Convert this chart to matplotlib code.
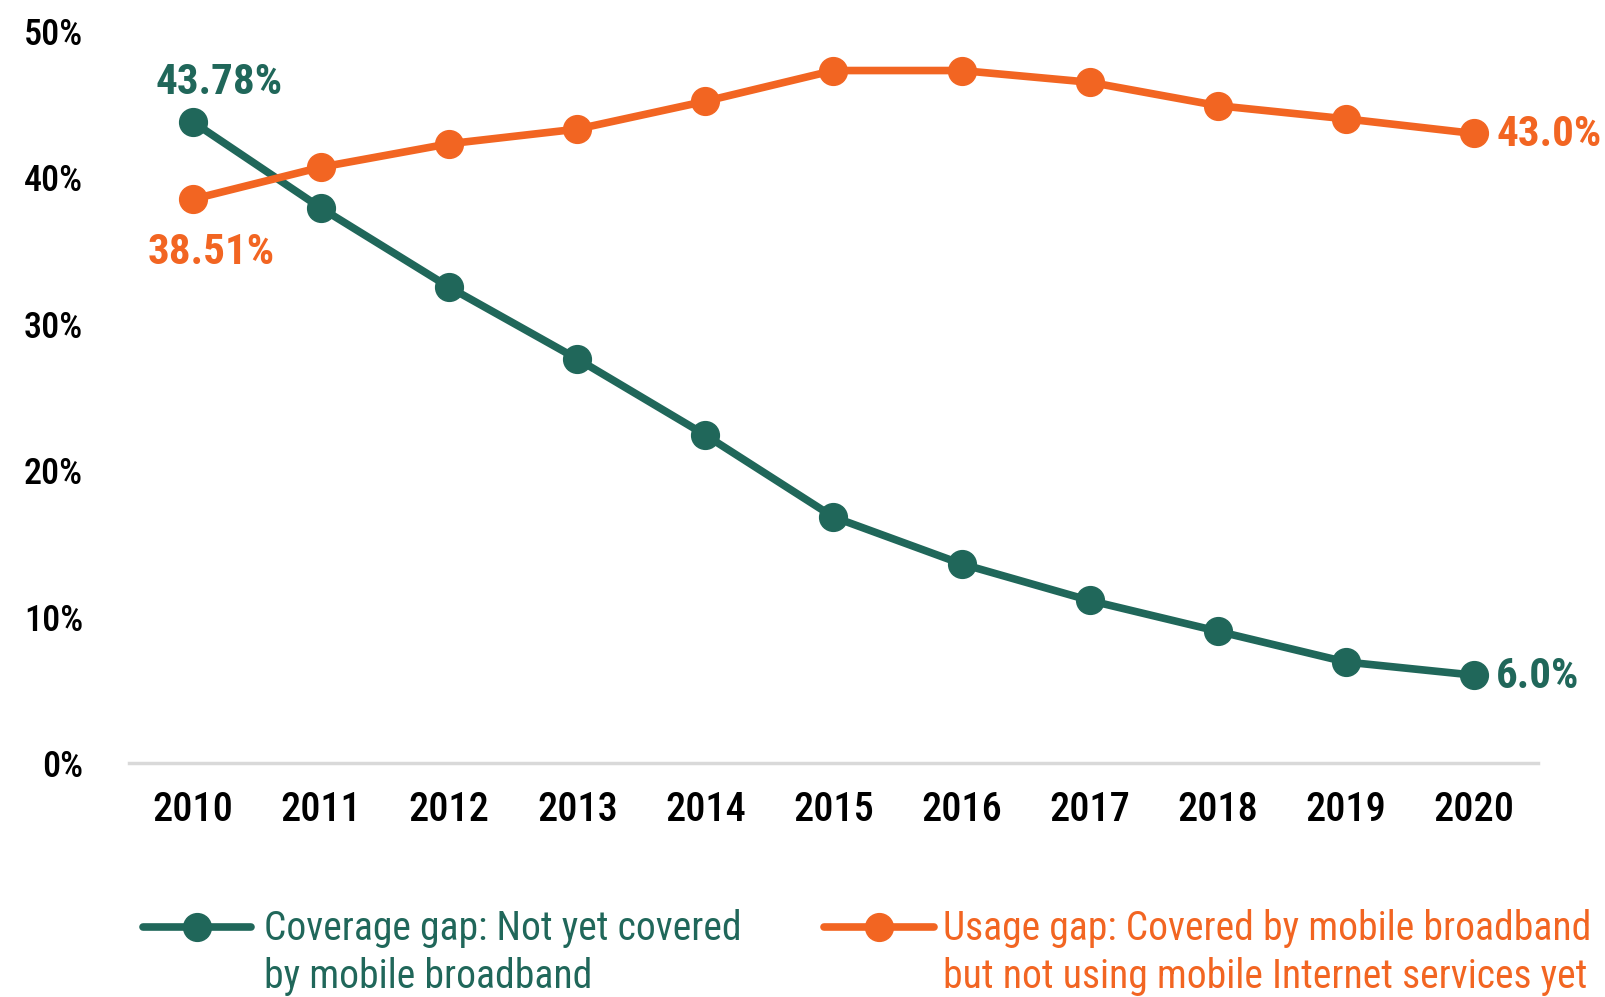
import matplotlib
matplotlib.use("Agg")
from matplotlib import pyplot as plt
from matplotlib.lines import Line2D

years = [2010, 2011, 2012, 2013, 2014, 2015, 2016, 2017, 2018, 2019, 2020]
coverage_gap = [43.78, 37.9, 32.5, 27.6, 22.4, 16.8, 13.6, 11.1, 9.0, 6.9, 6.0]
usage_gap = [38.51, 40.7, 42.3, 43.3, 45.2, 47.3, 47.3, 46.5, 44.9, 44.0, 43.0]
yticks = [0, 10, 20, 30, 40, 50]
labels = ['Coverage gap: Not yet covered\nby mobile broadband',
          'Usage gap: Covered by mobile broadband\nbut not using mobile Internet services yet']

green = '#20675a'
orange = '#f26522'

plt.rcParams['font.family'] = ['Roboto Condensed', 'DejaVu Sans']

W, H = 1606, 997
fig = plt.figure(figsize=(W / 100, H / 100), dpi=100)
ax = fig.add_axes([129 / W, 1 - 763 / H, (1538 - 129) / W, (763 - 31) / H])

ax.plot(years, coverage_gap, color=green, lw=5.5, marker='o', ms=20, zorder=3)
ax.plot(years, usage_gap, color=orange, lw=5.5, marker='o', ms=20, zorder=3)

ax.set_xlim(2009.5, 2020.5)
ax.set_ylim(0, 50)
ax.set_xticks(years)
ax.set_xticklabels([str(y) for y in years], fontsize=29, fontweight='medium')
ax.set_yticks(yticks)
ax.set_yticklabels([f'{v}%' for v in yticks], fontsize=26, fontweight='medium')
ax.tick_params(axis='both', length=0)
ax.tick_params(axis='x', pad=20)
ax.tick_params(axis='y', pad=33)

for s in ['top', 'right', 'left']:
    ax.spines[s].set_visible(False)
ax.spines['bottom'].set_color('#d9d9d9')
ax.spines['bottom'].set_linewidth(2.5)
ax.spines['bottom'].set_zorder(1)

bold = dict(fontsize=31, fontweight='bold', textcoords='offset points')
ax.annotate(f'{coverage_gap[0]:.2f}%', (years[0], coverage_gap[0]), xytext=(19, 20),
            ha='center', va='baseline', color=green, **bold)
ax.annotate(f'{usage_gap[0]:.2f}%', (years[0], usage_gap[0]), xytext=(13, -47),
            ha='center', va='baseline', color=orange, **bold)
ax.annotate(f'{usage_gap[-1]:.1f}%', (years[-1], usage_gap[-1]), xytext=(16, -1),
            ha='left', va='center', color=orange, **bold)
ax.annotate(f'{coverage_gap[-1]:.1f}%', (years[-1], coverage_gap[-1]), xytext=(16, -1),
            ha='left', va='center', color=green, **bold)

# legend: handle sits level with the first text line
legend_items = [(143, 251, 264, green, labels[0]), (824, 934, 943, orange, labels[1])]
for x0, x1, xt, col, lab in legend_items:
    y = 1 - 927 / H
    fig.add_artist(Line2D([x0 / W, (x0 + x1) / 2 / W, x1 / W], [y, y, y], color=col, lw=5.5,
                          solid_capstyle='round', marker='o', ms=20, markevery=[1],
                          transform=fig.transFigure))
    fig.text(xt / W, 1 - 988 / H, lab, color=col, fontsize=28.5, fontweight='normal',
             ha='left', va='baseline', linespacing=1.28)

fig.savefig('out.png', dpi=100)
